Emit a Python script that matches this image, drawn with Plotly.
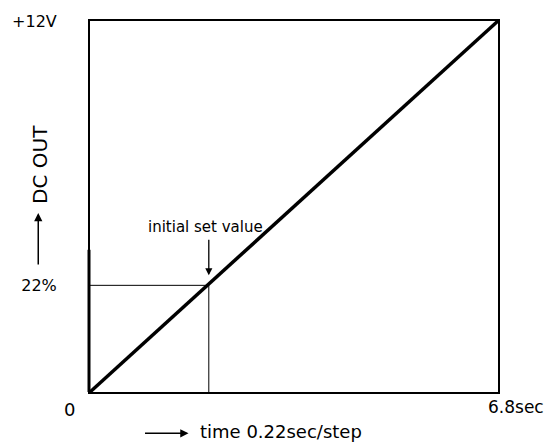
import plotly.graph_objects as go

# ---- data ----
time_range = [0.0, 6.8]          # seconds
level_range = [0.0, 12.0]        # volts
ramp_time = [0.0, 6.8]
ramp_level = [0.0, 12.0]
set_time = 1.98                  # initial set point (time)
set_level = 3.45                 # initial set point (level)
y_tick_vals = [set_level, 12.0]
y_tick_text = ["22%", "+12V"]
origin_label = "0"
x_end_label = "6.8sec"
x_title = "time 0.22sec/step"
y_title = "DC OUT"
point_label = "initial set value"

W, H = 557, 445
L, R, T, B = 88, 59, 15, 53
PW, PH = W - L - R, H - T - B

def px(xp):
    return (xp - L) / PW

def py(yp):
    return (H - B - yp) / PH

FONT = "DejaVu Sans, Verdana, sans-serif"

fig = go.Figure()

# ramp
fig.add_trace(go.Scatter(x=ramp_time, y=ramp_level, mode="lines",
                         line=dict(color="black", width=3.5),
                         hoverinfo="skip", showlegend=False))
# guide lines to initial set point
fig.add_trace(go.Scatter(x=[0, set_time, set_time], y=[set_level, set_level, 0],
                         mode="lines", line=dict(color="black", width=1),
                         hoverinfo="skip", showlegend=False))

# thicker lower part of left edge
fig.add_shape(type="line", xref="paper", yref="y", x0=-1.0 / PW, x1=-1.0 / PW,
              y0=0, y1=4.6, line=dict(color="black", width=3))

ann = []
# origin label
ann.append(dict(x=0, y=0, xref="x", yref="y", text=origin_label, showarrow=False,
                xanchor="center", yanchor="top", xshift=-21, yshift=-5,
                font=dict(size=18)))
# end of x label
ann.append(dict(x=time_range[1], y=0, xref="x", yref="y", text=x_end_label, showarrow=False,
                xanchor="left", yanchor="top", xshift=-12, yshift=-3,
                font=dict(size=17)))
# initial set value label + arrow
ann.append(dict(x=set_time, y=set_level, xref="x", yref="y", text=point_label,
                showarrow=False, xanchor="center", yanchor="middle",
                xshift=-3, yshift=58, font=dict(size=15)))
ann.append(dict(x=set_time, y=set_level, xref="x", yref="y", text="",
                showarrow=True, ax=0, ay=-47, axref="pixel", ayref="pixel",
                standoff=10, arrowhead=2, arrowsize=1.1, arrowwidth=1.3,
                arrowcolor="black"))
# y title with arrow
ann.append(dict(x=px(37), y=py(161), xref="paper", yref="paper", text=y_title,
                showarrow=False, textangle=-90, xanchor="center", yanchor="middle",
                font=dict(size=20)))
ann.append(dict(x=px(36), y=py(210), xref="paper", yref="paper", text="",
                showarrow=True, ax=0, ay=53, arrowhead=2, arrowsize=1.1,
                arrowwidth=1.5, arrowcolor="black"))
# x title with arrow
ann.append(dict(x=px(197), y=py(432), xref="paper", yref="paper", text=x_title,
                showarrow=False, xanchor="left", yanchor="middle",
                font=dict(size=18)))
ann.append(dict(x=px(187), y=py(434), xref="paper", yref="paper", text="",
                showarrow=True, ax=-45, ay=0, arrowhead=2, arrowsize=1.1,
                arrowwidth=1.5, arrowcolor="black"))

fig.update_layout(
    width=W, height=H,
    margin=dict(l=L, r=R, t=T, b=B, pad=0),
    paper_bgcolor="white", plot_bgcolor="white",
    font=dict(family=FONT, color="black", size=17),
    showlegend=False,
    annotations=ann,
)
fig.update_xaxes(range=time_range, showgrid=False, zeroline=False,
                 showline=True, linecolor="black", linewidth=2, mirror=True,
                 showticklabels=False, ticks="")
fig.update_yaxes(range=level_range, showgrid=False, zeroline=False,
                 showline=True, linecolor="black", linewidth=2, mirror=True,
                 tickvals=y_tick_vals, ticktext=y_tick_text,
                 ticks="outside", ticklen=28, tickcolor="rgba(0,0,0,0)",
                 tickfont=dict(size=16))

fig.write_html("out.html", config={"displayModeBar": False},
               post_script="document.body.style.margin='0';document.body.style.overflow='hidden';")
